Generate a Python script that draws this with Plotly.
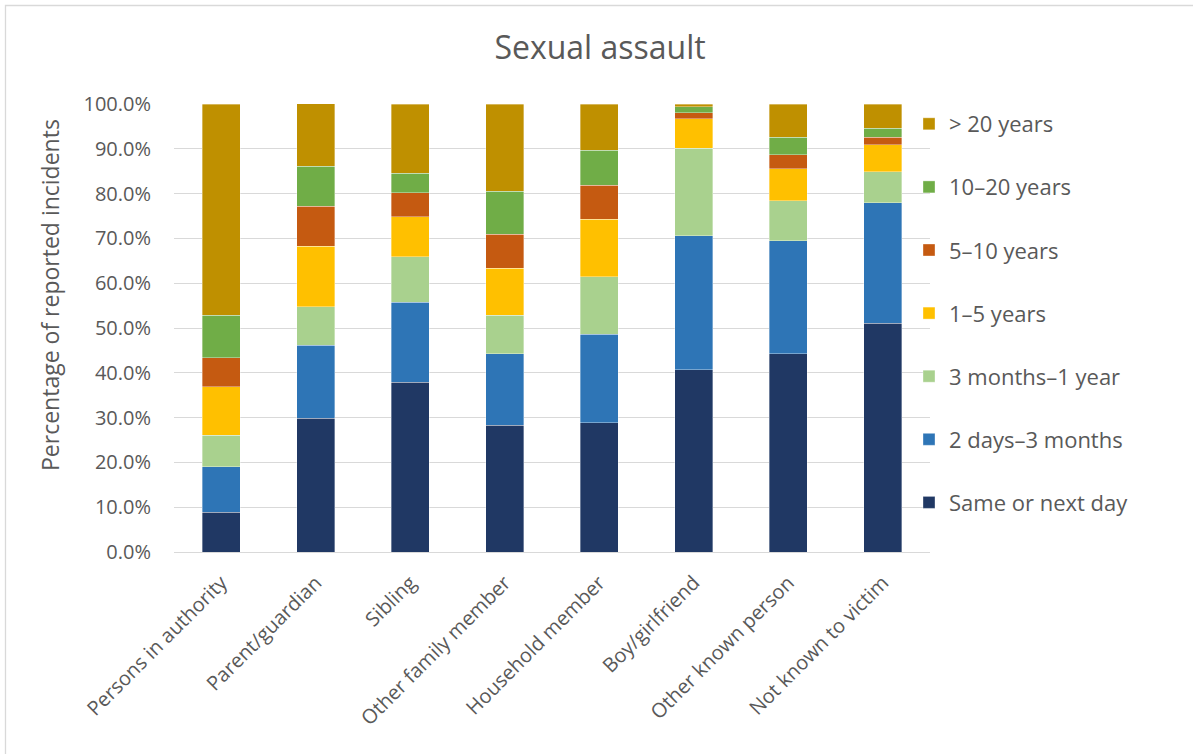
import plotly.graph_objects as go

categories = ["Persons in authority", "Parent/guardian", "Sibling", "Other family member",
              "Household member", "Boy/girlfriend", "Other known person", "Not known to victim"]

same_or_next_day = [8.9, 29.9, 37.9, 28.3, 28.9, 40.7, 44.2, 51.1]
days2_months3    = [10.1, 16.3, 17.8, 15.9, 19.7, 29.9, 25.3, 26.9]
months3_year1    = [7.1, 8.5, 10.2, 8.6, 12.8, 19.5, 8.9, 6.9]
years1_5         = [10.8, 13.5, 8.9, 10.5, 12.9, 6.6, 7.1, 6.0]
years5_10        = [6.5, 9.0, 5.4, 7.6, 7.6, 1.4, 3.2, 1.7]
years10_20       = [9.4, 8.9, 4.3, 9.6, 7.8, 1.3, 3.9, 2.0]
years20_plus     = [47.2, 14.0, 15.5, 19.5, 10.3, 0.6, 7.4, 5.4]

series_names = ["Same or next day", "2 days–3 months", "3 months–1 year", "1–5 years",
                "5–10 years", "10–20 years", "> 20 years"]
series_values = [same_or_next_day, days2_months3, months3_year1, years1_5,
                 years5_10, years10_20, years20_plus]
colors = ["#203864", "#2E75B6", "#A9D18E", "#FFC000", "#C55A11", "#70AD47", "#BF9000"]

font_family = "Open Sans, Lato, sans-serif"
text_color = "#595959"

W, H = 1193, 754
PL, PR, PT, PB = 174, 930, 104, 552  # plot area in pixels
pw, ph = PR - PL, PB - PT

fig = go.Figure()
n = len(series_names)
for i, (name, vals, col) in enumerate(zip(series_names, series_values, colors)):
    fig.add_trace(go.Bar(
        x=categories, y=[v / 100 for v in vals], name=name, legendgroup=name,
        legendrank=100 + (n - i),
        marker=dict(color=col, line=dict(color="rgba(255,255,255,0.5)", width=0.7)),
    ))

fig.update_layout(
    barmode="stack",
    bargap=0.6,
    width=W, height=H,
    paper_bgcolor="white", plot_bgcolor="white",
    margin=dict(l=PL, r=W - PR, t=PT, b=H - PB, autoexpand=False),
    font=dict(family=font_family, color=text_color),
    title=dict(text="Sexual assault", x=600 / W, xanchor="center", y=1 - 48 / H,
               yanchor="middle", font=dict(size=32, color=text_color, family=font_family)),
    yaxis=dict(range=[0, 1], tickformat=".1%", dtick=0.1, showgrid=True, gridcolor="#D9D9D9",
               gridwidth=1.3, zeroline=False, showline=False, ticks="", automargin=False,
               ticklabelstandoff=22,
               tickfont=dict(size=20, color=text_color)),
    xaxis=dict(tickangle=-45, tickfont=dict(size=20, color=text_color), showline=True,
               linecolor="#D9D9D9", linewidth=1.3, ticks="", automargin=False,
               ticklabelstandoff=10),
    legend=dict(x=909 / W, xref="container", y=1 - 103 / H, yref="container",
                xanchor="left", yanchor="top", traceorder="grouped", tracegroupgap=31.5,
                maxheight=700,
                font=dict(size=22, color=text_color), bgcolor="rgba(0,0,0,0)"),
    annotations=[dict(text="Percentage of reported incidents", textangle=-90,
                      xref="paper", yref="paper", x=(50 - PL) / pw, y=(PB - 295) / ph,
                      xanchor="center", yanchor="middle", showarrow=False,
                      font=dict(size=23, color=text_color))],
    shapes=[dict(type="rect", xref="paper", yref="paper",
                 x0=(5.5 - PL) / pw, x1=(W + 10 - PL) / pw,
                 y0=-(H + 10 - PB) / ph, y1=1 + (PT - 5.5) / ph,
                 line=dict(color="#D9D9D9", width=1.3), fillcolor="rgba(0,0,0,0)")],
)

fig.write_html("out.html", config={"displayModeBar": False},
               post_script="document.body.style.margin='0';document.documentElement.style.overflow='hidden';")
